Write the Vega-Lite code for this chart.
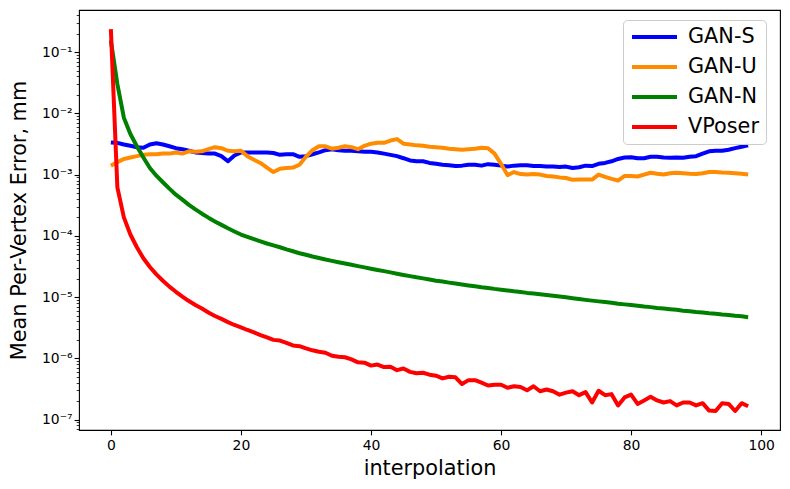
{
  "$schema": "https://vega.github.io/schema/vega-lite/v6.json",
  "width": 701,
  "height": 420,
  "autosize": {"type": "none"},
  "padding": {"left": 79, "top": 10, "right": 10, "bottom": 59},
  "background": "white",
  "config": {
    "view": {"stroke": "black", "strokeWidth": 1.1},
    "font": "DejaVu Sans",
    "axis": {
      "domainColor": "black",
      "domainWidth": 1.1,
      "tickColor": "black",
      "labelColor": "black",
      "labelFont": "DejaVu Sans",
      "labelFontSize": 13.9,
      "titleFont": "DejaVu Sans",
      "titleFontSize": 20.8,
      "titleFontWeight": "normal",
      "titleColor": "black",
      "grid": false
    }
  },
  "data": {
    "values": [
      {"i":0,"GAN-S":3.35e-3,"GAN-U":1.4e-3,"GAN-N":0.155,"VPoser":0.238},
      {"i":1,"GAN-S":3.3e-3,"GAN-U":1.6e-3,"GAN-N":0.03,"VPoser":6.2e-4},
      {"i":2,"GAN-S":3.1e-3,"GAN-U":1.8e-3,"GAN-N":8.5e-3,"VPoser":2.0e-4},
      {"i":3,"GAN-S":2.95e-3,"GAN-U":1.9e-3,"GAN-N":4.6e-3,"VPoser":1.05e-4},
      {"i":4,"GAN-S":2.8e-3,"GAN-U":2.0e-3,"GAN-N":2.9e-3,"VPoser":6.5e-5},
      {"i":5,"GAN-S":2.75e-3,"GAN-U":2.1e-3,"GAN-N":1.9e-3,"VPoser":4.3e-5},
      {"i":6,"GAN-S":3.1e-3,"GAN-U":2.15e-3,"GAN-N":1.28e-3,"VPoser":3.1e-5},
      {"i":7,"GAN-S":3.25e-3,"GAN-U":2.15e-3,"GAN-N":9.6e-4,"VPoser":2.35e-5},
      {"i":8,"GAN-S":3.1e-3,"GAN-U":2.2e-3,"GAN-N":7.5e-4,"VPoser":1.85e-5},
      {"i":9,"GAN-S":2.9e-3,"GAN-U":2.2e-3,"GAN-N":5.9e-4,"VPoser":1.48e-5},
      {"i":10,"GAN-S":2.7e-3,"GAN-U":2.3e-3,"GAN-N":4.7e-4,"VPoser":1.22e-5},
      {"i":11,"GAN-S":2.6e-3,"GAN-U":2.2e-3,"GAN-N":3.9e-4,"VPoser":1.02e-5},
      {"i":12,"GAN-S":2.45e-3,"GAN-U":2.4e-3,"GAN-N":3.2e-4,"VPoser":8.6e-6},
      {"i":13,"GAN-S":2.3e-3,"GAN-U":2.35e-3,"GAN-N":2.7e-4,"VPoser":7.4e-6},
      {"i":14,"GAN-S":2.25e-3,"GAN-U":2.4e-3,"GAN-N":2.3e-4,"VPoser":6.5e-6},
      {"i":15,"GAN-S":2.2e-3,"GAN-U":2.6e-3,"GAN-N":1.98e-4,"VPoser":5.6e-6},
      {"i":16,"GAN-S":2.2e-3,"GAN-U":2.8e-3,"GAN-N":1.72e-4,"VPoser":4.9e-6},
      {"i":17,"GAN-S":2.0e-3,"GAN-U":2.7e-3,"GAN-N":1.51e-4,"VPoser":4.4e-6},
      {"i":18,"GAN-S":1.65e-3,"GAN-U":2.45e-3,"GAN-N":1.33e-4,"VPoser":3.9e-6},
      {"i":19,"GAN-S":2.05e-3,"GAN-U":2.4e-3,"GAN-N":1.18e-4,"VPoser":3.5e-6},
      {"i":20,"GAN-S":2.3e-3,"GAN-U":2.45e-3,"GAN-N":1.05e-4,"VPoser":3.2e-6},
      {"i":21,"GAN-S":2.3e-3,"GAN-U":2.0e-3,"GAN-N":9.6e-5,"VPoser":2.9e-6},
      {"i":22,"GAN-S":2.3e-3,"GAN-U":1.75e-3,"GAN-N":8.8e-5,"VPoser":2.65e-6},
      {"i":23,"GAN-S":2.3e-3,"GAN-U":1.55e-3,"GAN-N":8.1e-5,"VPoser":2.4e-6},
      {"i":24,"GAN-S":2.3e-3,"GAN-U":1.3e-3,"GAN-N":7.5e-5,"VPoser":2.2e-6},
      {"i":25,"GAN-S":2.25e-3,"GAN-U":1.1e-3,"GAN-N":7.0e-5,"VPoser":2.0e-6},
      {"i":26,"GAN-S":2.1e-3,"GAN-U":1.25e-3,"GAN-N":6.5e-5,"VPoser":1.95e-6},
      {"i":27,"GAN-S":2.15e-3,"GAN-U":1.28e-3,"GAN-N":6.0e-5,"VPoser":1.78e-6},
      {"i":28,"GAN-S":2.15e-3,"GAN-U":1.3e-3,"GAN-N":5.6e-5,"VPoser":1.62e-6},
      {"i":29,"GAN-S":1.95e-3,"GAN-U":1.45e-3,"GAN-N":5.2e-5,"VPoser":1.58e-6},
      {"i":30,"GAN-S":2.0e-3,"GAN-U":1.95e-3,"GAN-N":4.9e-5,"VPoser":1.45e-6},
      {"i":31,"GAN-S":2.15e-3,"GAN-U":2.5e-3,"GAN-N":4.6e-5,"VPoser":1.35e-6},
      {"i":32,"GAN-S":2.3e-3,"GAN-U":2.9e-3,"GAN-N":4.35e-5,"VPoser":1.28e-6},
      {"i":33,"GAN-S":2.5e-3,"GAN-U":2.9e-3,"GAN-N":4.1e-5,"VPoser":1.23e-6},
      {"i":34,"GAN-S":2.6e-3,"GAN-U":2.65e-3,"GAN-N":3.9e-5,"VPoser":1.1e-6},
      {"i":35,"GAN-S":2.5e-3,"GAN-U":2.75e-3,"GAN-N":3.7e-5,"VPoser":1.06e-6},
      {"i":36,"GAN-S":2.45e-3,"GAN-U":2.9e-3,"GAN-N":3.53e-5,"VPoser":1.04e-6},
      {"i":37,"GAN-S":2.45e-3,"GAN-U":2.8e-3,"GAN-N":3.36e-5,"VPoser":9.6e-7},
      {"i":38,"GAN-S":2.4e-3,"GAN-U":2.6e-3,"GAN-N":3.2e-5,"VPoser":8.6e-7},
      {"i":39,"GAN-S":2.35e-3,"GAN-U":2.95e-3,"GAN-N":3.05e-5,"VPoser":8.5e-7},
      {"i":40,"GAN-S":2.35e-3,"GAN-U":3.2e-3,"GAN-N":2.9e-5,"VPoser":7.6e-7},
      {"i":41,"GAN-S":2.3e-3,"GAN-U":3.3e-3,"GAN-N":2.77e-5,"VPoser":7.9e-7},
      {"i":42,"GAN-S":2.2e-3,"GAN-U":3.3e-3,"GAN-N":2.65e-5,"VPoser":7.2e-7},
      {"i":43,"GAN-S":2.1e-3,"GAN-U":3.6e-3,"GAN-N":2.53e-5,"VPoser":7.3e-7},
      {"i":44,"GAN-S":2.0e-3,"GAN-U":3.8e-3,"GAN-N":2.41e-5,"VPoser":6.4e-7},
      {"i":45,"GAN-S":1.85e-3,"GAN-U":3.2e-3,"GAN-N":2.3e-5,"VPoser":6.8e-7},
      {"i":46,"GAN-S":1.7e-3,"GAN-U":3.1e-3,"GAN-N":2.2e-5,"VPoser":6.0e-7},
      {"i":47,"GAN-S":1.65e-3,"GAN-U":3.0e-3,"GAN-N":2.1e-5,"VPoser":5.7e-7},
      {"i":48,"GAN-S":1.65e-3,"GAN-U":2.95e-3,"GAN-N":2.02e-5,"VPoser":5.8e-7},
      {"i":49,"GAN-S":1.55e-3,"GAN-U":2.85e-3,"GAN-N":1.93e-5,"VPoser":5.4e-7},
      {"i":50,"GAN-S":1.5e-3,"GAN-U":2.8e-3,"GAN-N":1.85e-5,"VPoser":5.2e-7},
      {"i":51,"GAN-S":1.45e-3,"GAN-U":2.75e-3,"GAN-N":1.79e-5,"VPoser":4.7e-7},
      {"i":52,"GAN-S":1.42e-3,"GAN-U":2.65e-3,"GAN-N":1.72e-5,"VPoser":5.0e-7},
      {"i":53,"GAN-S":1.38e-3,"GAN-U":2.6e-3,"GAN-N":1.66e-5,"VPoser":4.9e-7},
      {"i":54,"GAN-S":1.4e-3,"GAN-U":2.55e-3,"GAN-N":1.6e-5,"VPoser":3.8e-7},
      {"i":55,"GAN-S":1.45e-3,"GAN-U":2.6e-3,"GAN-N":1.55e-5,"VPoser":4.4e-7},
      {"i":56,"GAN-S":1.45e-3,"GAN-U":2.65e-3,"GAN-N":1.5e-5,"VPoser":4.4e-7},
      {"i":57,"GAN-S":1.4e-3,"GAN-U":2.75e-3,"GAN-N":1.45e-5,"VPoser":4.0e-7},
      {"i":58,"GAN-S":1.48e-3,"GAN-U":2.7e-3,"GAN-N":1.41e-5,"VPoser":3.6e-7},
      {"i":59,"GAN-S":1.45e-3,"GAN-U":2.2e-3,"GAN-N":1.36e-5,"VPoser":3.7e-7},
      {"i":60,"GAN-S":1.4e-3,"GAN-U":1.5e-3,"GAN-N":1.32e-5,"VPoser":3.7e-7},
      {"i":61,"GAN-S":1.35e-3,"GAN-U":9.8e-4,"GAN-N":1.28e-5,"VPoser":3.3e-7},
      {"i":62,"GAN-S":1.4e-3,"GAN-U":1.1e-3,"GAN-N":1.24e-5,"VPoser":3.5e-7},
      {"i":63,"GAN-S":1.42e-3,"GAN-U":1.02e-3,"GAN-N":1.21e-5,"VPoser":3.4e-7},
      {"i":64,"GAN-S":1.42e-3,"GAN-U":1.0e-3,"GAN-N":1.17e-5,"VPoser":3.0e-7},
      {"i":65,"GAN-S":1.38e-3,"GAN-U":1.02e-3,"GAN-N":1.14e-5,"VPoser":3.5e-7},
      {"i":66,"GAN-S":1.38e-3,"GAN-U":1.0e-3,"GAN-N":1.11e-5,"VPoser":2.9e-7},
      {"i":67,"GAN-S":1.36e-3,"GAN-U":9.5e-4,"GAN-N":1.08e-5,"VPoser":3.1e-7},
      {"i":68,"GAN-S":1.35e-3,"GAN-U":9.3e-4,"GAN-N":1.05e-5,"VPoser":2.9e-7},
      {"i":69,"GAN-S":1.33e-3,"GAN-U":9.0e-4,"GAN-N":1.02e-5,"VPoser":2.55e-7},
      {"i":70,"GAN-S":1.35e-3,"GAN-U":8.8e-4,"GAN-N":9.9e-6,"VPoser":2.75e-7},
      {"i":71,"GAN-S":1.28e-3,"GAN-U":8.2e-4,"GAN-N":9.6e-6,"VPoser":2.9e-7},
      {"i":72,"GAN-S":1.32e-3,"GAN-U":8.3e-4,"GAN-N":9.3e-6,"VPoser":2.5e-7},
      {"i":73,"GAN-S":1.4e-3,"GAN-U":8.3e-4,"GAN-N":9.0e-6,"VPoser":2.8e-7},
      {"i":74,"GAN-S":1.38e-3,"GAN-U":8.3e-4,"GAN-N":8.75e-6,"VPoser":1.9e-7},
      {"i":75,"GAN-S":1.5e-3,"GAN-U":1.0e-3,"GAN-N":8.5e-6,"VPoser":2.95e-7},
      {"i":76,"GAN-S":1.55e-3,"GAN-U":9.2e-4,"GAN-N":8.3e-6,"VPoser":2.5e-7},
      {"i":77,"GAN-S":1.65e-3,"GAN-U":8.5e-4,"GAN-N":8.1e-6,"VPoser":2.6e-7},
      {"i":78,"GAN-S":1.8e-3,"GAN-U":8.0e-4,"GAN-N":7.8e-6,"VPoser":1.7e-7},
      {"i":79,"GAN-S":1.9e-3,"GAN-U":9.5e-4,"GAN-N":7.6e-6,"VPoser":2.3e-7},
      {"i":80,"GAN-S":1.92e-3,"GAN-U":9.5e-4,"GAN-N":7.4e-6,"VPoser":2.55e-7},
      {"i":81,"GAN-S":1.85e-3,"GAN-U":9.3e-4,"GAN-N":7.2e-6,"VPoser":1.8e-7},
      {"i":82,"GAN-S":1.85e-3,"GAN-U":1.0e-3,"GAN-N":7.0e-6,"VPoser":2.05e-7},
      {"i":83,"GAN-S":1.95e-3,"GAN-U":1.07e-3,"GAN-N":6.85e-6,"VPoser":2.35e-7},
      {"i":84,"GAN-S":1.95e-3,"GAN-U":1.03e-3,"GAN-N":6.65e-6,"VPoser":2.05e-7},
      {"i":85,"GAN-S":1.9e-3,"GAN-U":1.0e-3,"GAN-N":6.5e-6,"VPoser":1.9e-7},
      {"i":86,"GAN-S":1.88e-3,"GAN-U":1.05e-3,"GAN-N":6.35e-6,"VPoser":2.0e-7},
      {"i":87,"GAN-S":1.9e-3,"GAN-U":1.07e-3,"GAN-N":6.2e-6,"VPoser":1.7e-7},
      {"i":88,"GAN-S":1.88e-3,"GAN-U":1.05e-3,"GAN-N":6.0e-6,"VPoser":1.9e-7},
      {"i":89,"GAN-S":1.95e-3,"GAN-U":1.03e-3,"GAN-N":5.85e-6,"VPoser":1.9e-7},
      {"i":90,"GAN-S":2.0e-3,"GAN-U":1.02e-3,"GAN-N":5.7e-6,"VPoser":1.7e-7},
      {"i":91,"GAN-S":2.2e-3,"GAN-U":1.05e-3,"GAN-N":5.6e-6,"VPoser":1.85e-7},
      {"i":92,"GAN-S":2.4e-3,"GAN-U":1.1e-3,"GAN-N":5.45e-6,"VPoser":1.4e-7},
      {"i":93,"GAN-S":2.45e-3,"GAN-U":1.1e-3,"GAN-N":5.35e-6,"VPoser":1.38e-7},
      {"i":94,"GAN-S":2.45e-3,"GAN-U":1.08e-3,"GAN-N":5.2e-6,"VPoser":1.85e-7},
      {"i":95,"GAN-S":2.55e-3,"GAN-U":1.07e-3,"GAN-N":5.1e-6,"VPoser":1.8e-7},
      {"i":96,"GAN-S":2.7e-3,"GAN-U":1.05e-3,"GAN-N":4.95e-6,"VPoser":1.38e-7},
      {"i":97,"GAN-S":2.85e-3,"GAN-U":1.03e-3,"GAN-N":4.85e-6,"VPoser":1.85e-7},
      {"i":98,"GAN-S":3.0e-3,"GAN-U":1.0e-3,"GAN-N":4.7e-6,"VPoser":1.65e-7}
    ]
  },
  "transform": [
    {"fold": ["GAN-S", "GAN-U", "GAN-N", "VPoser"], "as": ["series", "value"]}
  ],
  "mark": {"type": "line", "strokeWidth": 4, "strokeJoin": "round", "clip": true},
  "encoding": {
    "x": {
      "field": "i",
      "type": "quantitative",
      "scale": {"domain": [-4.9, 102.9], "nice": false, "zero": false},
      "axis": {
        "title": "interpolation",
        "values": [0, 20, 40, 60, 80, 100],
        "tickSize": 4.9,
        "tickWidth": 1.1,
        "labelPadding": 4,
        "titlePadding": 6,
        "domain": false
      }
    },
    "y": {
      "field": "value",
      "type": "quantitative",
      "scale": {"type": "log", "domain": [6.75e-8, 0.487], "nice": false},
      "axis": {
        "title": "Mean Per-Vertex Error, mm",
        "values": [7e-8, 8e-8, 9e-8, 1e-7, 2e-7, 3e-7, 4e-7, 5e-7, 6e-7, 7e-7, 8e-7, 9e-7, 1e-6, 2e-6, 3e-6, 4e-6, 5e-6, 6e-6, 7e-6, 8e-6, 9e-6, 1e-5, 2e-5, 3e-5, 4e-5, 5e-5, 6e-5, 7e-5, 8e-5, 9e-5, 1e-4, 2e-4, 3e-4, 4e-4, 5e-4, 6e-4, 7e-4, 8e-4, 9e-4, 1e-3, 2e-3, 3e-3, 4e-3, 5e-3, 6e-3, 7e-3, 8e-3, 9e-3, 1e-2, 2e-2, 3e-2, 4e-2, 5e-2, 6e-2, 7e-2, 8e-2, 9e-2, 0.1, 0.2, 0.3, 0.4],
        "labelExpr": "abs(log(datum.value)/LN10 - round(log(datum.value)/LN10)) < 0.001 ? '10' + '⁻' + ['⁰','¹','²','³','⁴','⁵','⁶','⁷','⁸','⁹'][-round(log(datum.value)/LN10)] : ''",
        "labelOverlap": false,
        "labelFlush": false,
        "labelPadding": 2,
        "tickSize": {"condition": {"test": "abs(log(datum.value)/LN10 - round(log(datum.value)/LN10)) < 0.001", "value": 4.9}, "value": 2.8},
        "tickWidth": {"condition": {"test": "abs(log(datum.value)/LN10 - round(log(datum.value)/LN10)) < 0.001", "value": 1.1}, "value": 0.8},
        "titlePadding": 12,
        "domain": false
      }
    },
    "color": {
      "field": "series",
      "type": "nominal",
      "scale": {"domain": ["GAN-S", "GAN-U", "GAN-N", "VPoser"], "range": ["#0000ff", "#ff8c00", "#008000", "#ff0000"]},
      "legend": {
        "title": null,
        "orient": "none",
        "legendX": 544,
        "legendY": 10,
        "symbolType": "stroke",
        "symbolSize": 2025,
        "symbolStrokeWidth": 4,
        "clipHeight": 20,
        "rowPadding": 9,
        "labelFontSize": 20.8,
        "labelFont": "DejaVu Sans",
        "labelColor": "black",
        "labelOffset": 9,
        "padding": 7,
        "fillColor": "rgba(255,255,255,0.8)",
        "strokeColor": "#cccccc",
        "cornerRadius": 4
      }
    }
  }
}
